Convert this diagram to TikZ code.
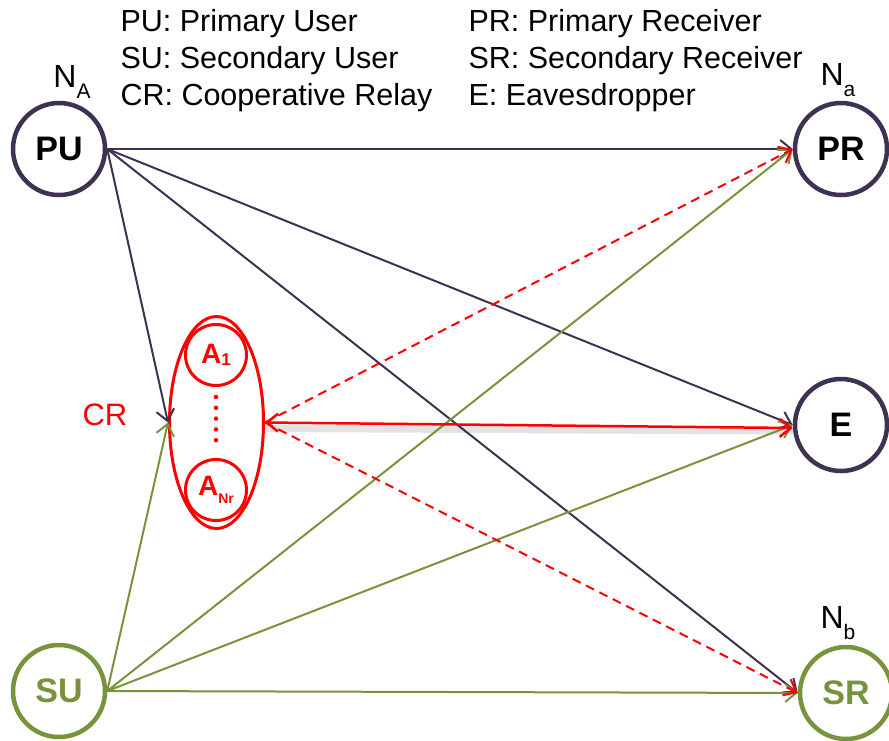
\documentclass[tikz,border=0pt]{standalone}
\usepackage{fontspec}
\setmainfont{Liberation Sans}
\usetikzlibrary{arrows.meta,shapes.geometric}
\definecolor{pur}{HTML}{3F3151}
\definecolor{grn}{HTML}{77933C}
\definecolor{rd}{HTML}{FF0000}
\begin{document}
\begin{tikzpicture}[x=1pt,y=-1pt,
  big/.style={circle,draw,line width=4.5pt,minimum size=92pt,inner sep=0pt,font=\fontsize{34}{34}\selectfont\bfseries},
  small/.style={circle,draw=rd,line width=3pt,minimum size=61pt,inner sep=0pt,text=rd,font=\fontsize{28}{28}\selectfont\bfseries},
  legend/.style={anchor=base west,font=\fontsize{30.5}{31}\selectfont},
  lbl/.style={font=\fontsize{32}{32}\selectfont},
  tipstyle/.style={-{Straight Barb[length=11pt,width=18pt]}},
  parr/.style={draw=pur,line width=2pt,tipstyle},
  garr/.style={draw=grn,line width=2pt,tipstyle},
  rarr/.style={draw=rd,line width=2pt,dashed,dash pattern=on 9pt off 6pt,tipstyle}
]
\useasboundingbox (0,0) rectangle (889,740);

% legend
\node[legend] (l1) at (117,31) {PU: Primary User};
\node[legend] (l2) at (117,68) {SU: Secondary User};
\node[legend] (l3) at (117,105) {CR: Cooperative Relay};
\node[legend] (l4) at (465,31) {PR: Primary Receiver};
\node[legend] (l5) at (465,68) {SR: Secondary Receiver};
\node[legend] (l6) at (465,105) {E: Eavesdropper};

% main nodes
\node[big,draw=pur] (PU) at (59,149) {PU};
\node[big,draw=pur] (PR) at (841,149) {PR};
\node[big,draw=pur] (E) at (841,425) {E};
\node[big,draw=grn,text=grn] (SR) at (846,693) {SR};
\node[big,draw=grn,text=grn] (SU) at (59,691) {SU};

% relay cluster
\node[ellipse,draw=rd,line width=3pt,minimum width=94pt,minimum height=212pt,inner sep=0pt] (CR) at (216.5,422.5) {};
\node[small] (A1) at (216,355) {A\raisebox{-0.05em}{\fontsize{17}{17}\selectfont 1}};
\node[small] (ANr) at (216,490) {A\raisebox{-0.3em}{\fontsize{14}{14}\selectfont Nr}};
\draw[rd,line width=4.5pt,line cap=round,dash pattern=on 0pt off 10.8pt] ([yshift=-10pt]A1.south) -- ([yshift=9pt]ANr.north);

% labels
\node[lbl] (NA) at (72,82) {N\raisebox{-0.35em}{\fontsize{21}{21}\selectfont A}};
\node[lbl] (Na) at (838,80) {N\raisebox{-0.35em}{\fontsize{21}{21}\selectfont a}};
\node[lbl] (Nb) at (838,623) {N\raisebox{-0.35em}{\fontsize{21}{21}\selectfont b}};
\node[lbl,text=rd,font=\fontsize{31}{31}\selectfont] (CRl) at (105,415) {CR};

% shadow of red link
\draw[gray!22,line width=7pt] ([yshift=-6pt]CR.east) -- ([yshift=-6pt]E.west);

% PU links
\draw[parr] (PU.east) -- (PR.west);
\draw[parr] (PU.east) -- (E.west);
\draw[parr] (PU.east) -- (SR.west);
\draw[parr] (PU.east) -- (CR.west);

% SU links
\draw[garr] (SU.east) -- (CR.west);
\draw[garr] (SU.east) -- (PR.west);
\draw[garr] (SU.east) -- (E.west);
\draw[garr] (SU.east) -- (SR.west);

% relay links
\draw[rarr] (CR.east) -- (PR.west);
\draw[rarr] (CR.east) -- (SR.west);
\draw[draw=rd,line width=2.5pt,{Straight Barb[length=11pt,width=18pt]}-{Straight Barb[length=11pt,width=18pt]}] (CR.east) -- ([yshift=-3pt]E.west);
\end{tikzpicture}
\end{document}
